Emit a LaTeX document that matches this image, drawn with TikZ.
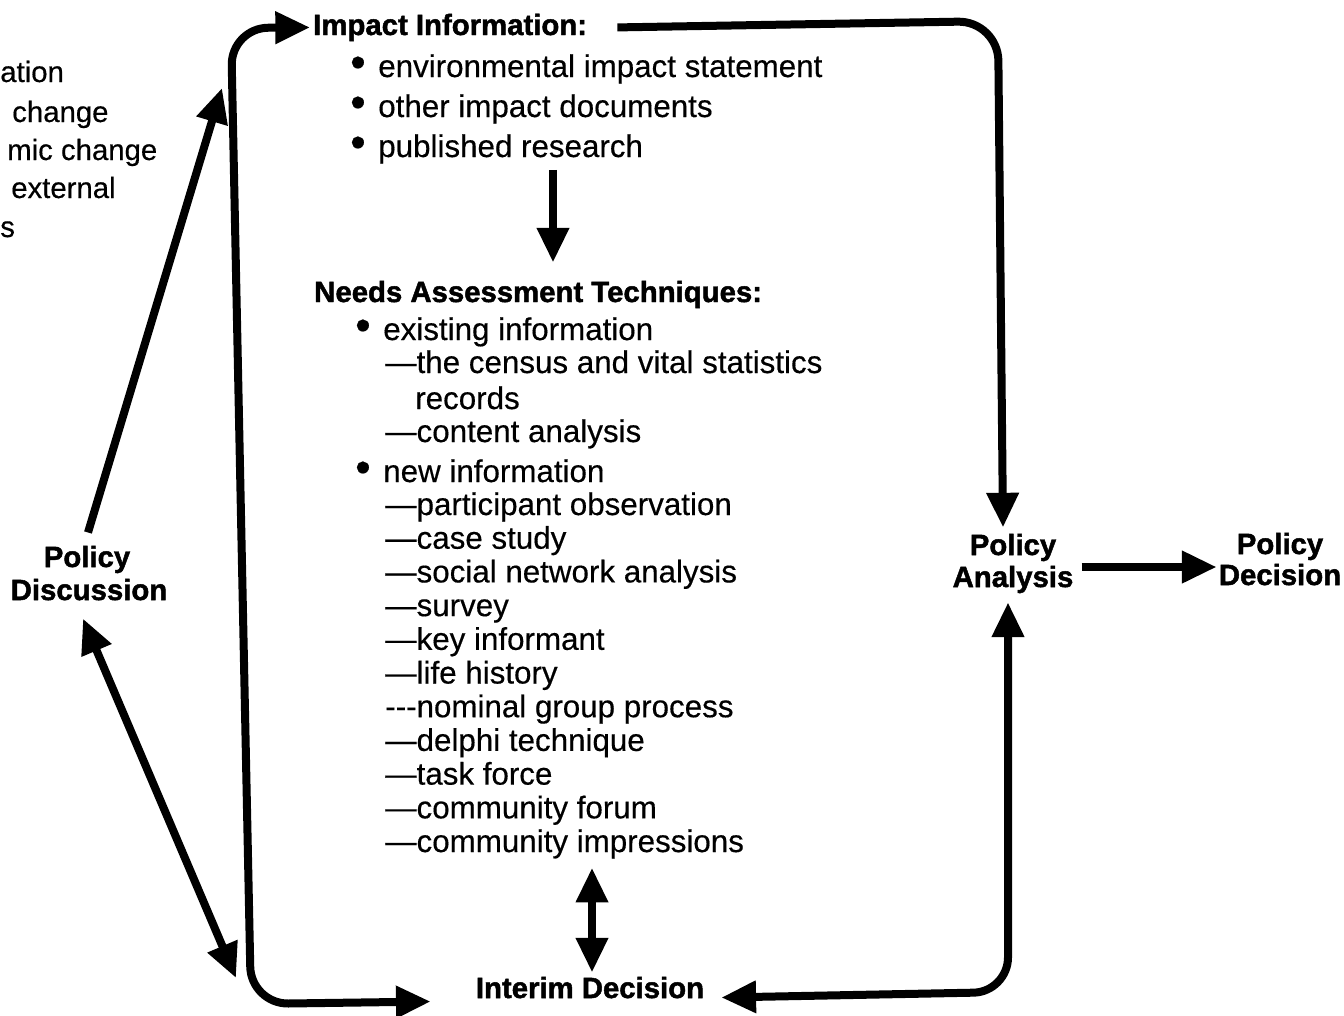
\documentclass[tikz,border=0pt]{standalone}
\usepackage{fontspec}
\newfontfamily\lsans{Liberation Sans}[UprightFeatures={FakeBold=0.4},BoldFeatures={FakeBold=1.6}]
\usetikzlibrary{arrows.meta,calc}
\newcommand\bul{\llap{\scalebox{1.4}{\textbullet}\hspace{9.5pt}}}
\begin{document}
\begin{tikzpicture}[x=0.75pt,y=-0.75pt,
  txt/.style={font=\lsans\fontsize{23.5}{28}\selectfont,inner sep=0pt,anchor=base west},
  frag/.style={font=\lsans\fontsize{22}{26}\selectfont,inner sep=0pt,anchor=base west},
  hd/.style={font=\lsans\bfseries\fontsize{22}{26}\selectfont,inner sep=0pt},
  conn/.style={line width=6pt,draw=black},
  >={Triangle[length=26pt,width=23pt]}]
\useasboundingbox (0,0) rectangle (1344,1015);
\clip (0,0) rectangle (1344,1015);

% fragments at the top left
\node[frag] (f1) at (0,82) {ation};
\node[frag] (f2) at (12,122) {change};
\node[frag] (f3) at (7,160) {mic change};
\node[frag] (f4) at (11,198) {external};
\node[frag] (f5) at (0,237) {s};

% impact information
\node[hd,anchor=base west] (impact) at (313,35) {Impact Information:};
\node[txt] (i1) at (378,77) {\bul environmental impact statement};
\node[txt] (i2) at (378,117) {\bul other impact documents};
\node[txt] (i3) at (378,157) {\bul published research};

% needs assessment
\node[hd,anchor=base west] (needs) at (314,302) {Needs Assessment Techniques:};
\node[txt] (e1) at (383,340) {\bul existing information};
\node[txt] (e2) at (385,373) {—the census and vital statistics};
\node[txt] (e3) at (415,409) {records};
\node[txt] (e4) at (385,442) {—content analysis};
\node[txt] (n0) at (383,482) {\bul new information};
\foreach \t [count=\i] in {—participant observation,—case study,—social network analysis,—survey,—key informant,—life history,---nominal group process,—delphi technique,—task force,—community forum,—community impressions}
  \node[txt] (n\i) at (385,{515+(\i-1)*33.7}) {\t};

% decision nodes
\node[hd,anchor=base] (interim) at (590,998) {Interim Decision};
\node[hd,anchor=base] (discA) at (87,567) {Policy};
\node[hd,anchor=base] (discB) at (89,600) {Discussion};
\node[hd,anchor=base] (paA) at (1013,555) {Policy};
\node[hd,anchor=base] (paB) at (1013,587) {Analysis};
\node[hd,anchor=base] (pdA) at (1280,554) {Policy};
\node[hd,anchor=base] (pdB) at (1280,585) {Decision};

% connectors
\coordinate (upTip) at (222,88);
\draw[conn,->] ($(discA.north)+(1,-13)$) -- (upTip);
\coordinate (lowTip) at (236,978);
\draw[conn,<->] ($(discB.south)+(-6,18)$) -- (lowTip);

\draw[conn,<->,rounded corners=28pt] ($(impact.west)+(-3,0)$) -- (231,28) -- (251,1004) -- ($(interim.west)+(-45,14)$);
\draw[conn,->,rounded corners=30pt] ($(impact.east)+(30,0)$) -- (998,21) -- ($(paA.north)+(-10,-6)$);
\draw[conn,<->,rounded corners=26pt] ($(paB.south)+(-5,9)$) -- (1008,992) -- ($(interim.east)+(17,10)$);

\coordinate (pamid) at ($(paA.base)!0.5!(paB.base)+(0,-4)$);
\draw[conn,->] ($(pamid -| paB.east)+(8,0)$) -- ($(pamid -| pdB.west)+(-2,0)$);

\coordinate (ax) at (553,0);
\draw[conn,->] ($(i3.south -| ax)+(0,6)$) -- ($(needs.north -| ax)+(0,-18)$);
\draw[conn,<->] ($(n11.south -| interim.north)+(2,9)$) -- ($(interim.north)+(2,-4)$);
\end{tikzpicture}
\end{document}
